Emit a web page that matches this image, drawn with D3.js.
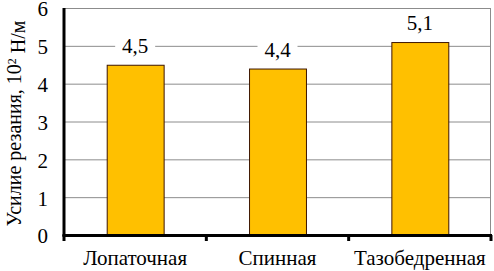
<!DOCTYPE html>
<html>
<head>
<meta charset="utf-8">
<script src="https://cdn.jsdelivr.net/npm/d3@7"></script>
<style>
  body { margin: 0; background: #fff; }
  svg { display: block; }
  text { font-family: "Liberation Serif", "Times New Roman", serif; fill: #000; }
</style>
</head>
<body>
<div id="chart"></div>
<script>
// ---- data ----
const categories = ["Лопаточная", "Спинная", "Тазобедренная"];
const values = [4.5, 4.4, 5.1];
const valueLabels = ["4,5", "4,4", "5,1"];
const yTicks = [0, 1, 2, 3, 4, 5, 6];

// ---- layout ----
const WIDTH = 494, HEIGHT = 271;
const margin = { left: 64, right: 3, top: 8, bottom: 36 };
const plotW = WIDTH - margin.left - margin.right;
const plotH = HEIGHT - margin.top - margin.bottom;
const FS = "21px";

const svg = d3.select("#chart").append("svg")
  .attr("width", WIDTH).attr("height", HEIGHT);

const g = svg.append("g").attr("transform", `translate(${margin.left},${margin.top})`);

const x = d3.scaleBand().domain(categories).range([0, plotW])
  .paddingInner(0.6).paddingOuter(0.3);
const xEdges = d3.scaleBand().domain(categories).range([0, plotW]);
const y = d3.scaleLinear().domain([0, 6]).range([plotH, 0]);

// gridlines
g.selectAll(".grid").data(yTicks.filter(d => d > 0)).enter()
  .append("line")
  .attr("x1", 0).attr("x2", plotW)
  .attr("y1", d => y(d) + 0.5).attr("y2", d => y(d) + 0.5)
  .attr("stroke", "#8c8c8c").attr("stroke-width", 1);

// right border
g.append("line")
  .attr("x1", plotW - 0.5).attr("x2", plotW - 0.5)
  .attr("y1", 0).attr("y2", plotH)
  .attr("stroke", "#8c8c8c");

// bars
g.selectAll(".bar").data(values).enter()
  .append("rect")
  .attr("x", (d, i) => x(categories[i]) + 0.5)
  .attr("y", d => y(d) + 0.5)
  .attr("width", x.bandwidth())
  .attr("height", d => plotH - y(d))
  .attr("fill", "#ffc000")
  .attr("stroke", "#3d1500")
  .attr("stroke-width", 1);

// value labels with white background
const lab = g.selectAll(".lab").data(values).enter().append("g")
  .attr("transform", (d, i) => `translate(${x(categories[i]) + x.bandwidth() / 2},${y(d) - 19})`);
lab.append("rect")
  .attr("x", -20).attr("y", -12).attr("width", 40).attr("height", 24)
  .attr("fill", "#fff");
lab.append("text")
  .attr("text-anchor", "middle").attr("dy", "0.35em")
  .style("font-size", FS)
  .text((d, i) => valueLabels[i]);

// y axis
g.append("line")
  .attr("x1", 0).attr("x2", 0).attr("y1", 0).attr("y2", plotH + 1)
  .attr("stroke", "#000").attr("stroke-width", 3);
g.selectAll(".ytick").data(yTicks).enter()
  .append("text")
  .attr("x", -16).attr("y", d => y(d) + 1)
  .attr("dy", "0.35em").attr("text-anchor", "end")
  .style("font-size", FS)
  .text(d => d);

// x axis
g.append("line")
  .attr("x1", -1.5).attr("x2", plotW + 1).attr("y1", plotH + 0.5).attr("y2", plotH + 0.5)
  .attr("stroke", "#000").attr("stroke-width", 3);
const edges = categories.map(c => xEdges(c)).concat([plotW]);
g.selectAll(".xtick").data(edges).enter()
  .append("line")
  .attr("x1", d => d).attr("x2", d => d)
  .attr("y1", plotH).attr("y2", plotH + 6)
  .attr("stroke", "#000").attr("stroke-width", 3);
g.selectAll(".xlab").data(categories).enter()
  .append("text")
  .attr("x", d => xEdges(d) + xEdges.bandwidth() / 2)
  .attr("y", plotH + 30)
  .attr("text-anchor", "middle")
  .style("font-size", FS)
  .text(d => d);

// y title
const yt = svg.append("text")
  .attr("transform", `translate(21,${margin.top + plotH / 2 + 2}) rotate(-90)`)
  .attr("text-anchor", "middle")
  .style("font-size", "20px");
yt.append("tspan").text("Усилие резания, 10");
yt.append("tspan").attr("dy", "-0.45em").style("font-size", "12px").text("2");
yt.append("tspan").attr("dy", "0.45em").text(" Н/м");
</script>
</body>
</html>
